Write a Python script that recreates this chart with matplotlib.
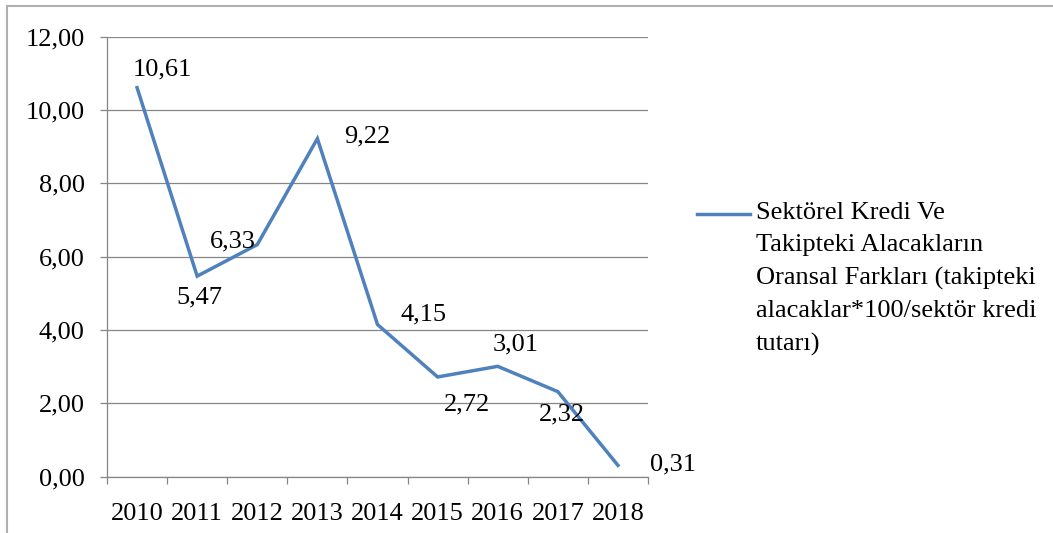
import matplotlib.pyplot as plt
from matplotlib.patches import Rectangle
from matplotlib.ticker import FuncFormatter, FixedLocator
import numpy as np

plt.rcParams['font.family'] = ['Liberation Serif', 'DejaVu Serif']

years = ['2010', '2011', '2012', '2013', '2014', '2015', '2016', '2017', '2018']
values = [10.61, 5.47, 6.33, 9.22, 4.15, 2.72, 3.01, 2.32, 0.31]
series_name = ('Sektörel Kredi Ve\nTakipteki Alacakların\nOransal Farkları (takipteki\n'
               'alacaklar*100/sektör kredi\ntutarı)')

# label offsets in pixels (dx, dy) from each point
label_offsets = [(25, 18), (2, -21), (-24, 3), (50, 2), (46, 10), (29, -27), (18, 22), (4, -23), (55, 1)]

W, H = 1053, 533
fig = plt.figure(figsize=(W / 100, H / 100), dpi=100)
ax = fig.add_axes([107 / W, 1 - 476.7 / H, (648 - 107) / W, (476.7 - 36.7) / H])

grey = '#868686'
fs = 19
x = np.arange(len(years))
ax.plot(x, values, color='#4F81BD', linewidth=2.5, solid_joinstyle='miter', zorder=3)

for xi, v, (dx, dy) in zip(x, values, label_offsets):
    ax.annotate(f'{v:.2f}'.replace('.', ','), (xi, v), xytext=(dx * 0.72, dy * 0.72),
                textcoords='offset points', ha='center', va='center', fontsize=fs)

ax.set_xlim(-0.5, len(years) - 0.5)
ax.set_ylim(0, 12)
ax.set_yticks(np.arange(0, 13, 2))
ax.yaxis.set_major_formatter(FuncFormatter(lambda v, p: f'{v:.2f}'.replace('.', ',')))
ax.set_xticks(x)
ax.set_xticklabels(years)
ax.xaxis.set_minor_locator(FixedLocator(np.arange(-0.5, len(years), 1)))
ax.tick_params(axis='x', which='major', length=0, labelsize=fs, pad=19)
ax.tick_params(axis='x', which='minor', length=5, color=grey, width=0.9)
ax.tick_params(axis='y', length=5, color=grey, width=0.9, labelsize=fs, pad=11)
ax.grid(axis='y', color=grey, linewidth=0.9)
ax.set_axisbelow(True)
for s in ['top', 'right']:
    ax.spines[s].set_visible(False)
for s in ['left', 'bottom']:
    ax.spines[s].set_color(grey)
    ax.spines[s].set_linewidth(0.9)

# legend on the right, handle level with the first line
fig.add_artist(plt.Line2D([697 / W, 750 / W], [1 - 214 / H, 1 - 214 / H],
                          color='#4F81BD', linewidth=2.5))
fig.text(756 / W, 1 - 202 / H, series_name, fontsize=fs, va='top', ha='left', linespacing=1.6)

# chart border
fig.add_artist(Rectangle((7 / W, -0.1), 2, 1.1 - 6 / H, transform=fig.transFigure,
                         fill=False, edgecolor='#b0b0b0', linewidth=1.5))

fig.savefig('out.png', dpi=100)
